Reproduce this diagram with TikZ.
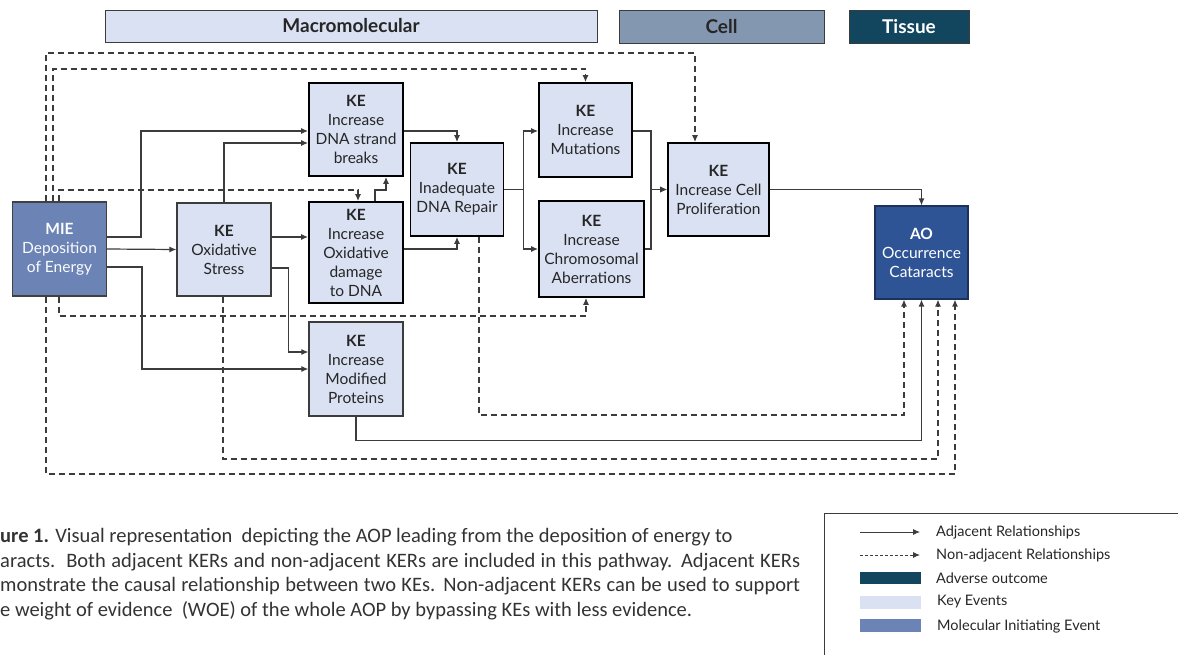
\documentclass[tikz,border=0pt]{standalone}
\usepackage{fontspec}
\setmainfont{Lato}
\newfontfamily\capfont{Carlito}
\usetikzlibrary{arrows.meta}
\definecolor{kefill}{HTML}{D9E1F2}
\definecolor{miefill}{HTML}{6C83B5}
\definecolor{aofill}{HTML}{2F5496}
\definecolor{cellfill}{HTML}{8497B0}
\definecolor{tissuefill}{HTML}{12465E}
\definecolor{linegrey}{HTML}{3C3C3C}
\tikzset{
	ke/.style={draw=black, line width=1.8pt, fill=kefill, align=center, inner sep=1pt, font=\fontsize{15.5}{19}\selectfont, text=black!85},
	kethin/.style={ke, draw=linegrey, line width=1.1pt},
	adj/.style={draw=linegrey, line width=1.2pt, -{Latex[length=7pt,width=6pt]}},
	nadj/.style={adj, dash pattern=on 6pt off 4pt},
	banner/.style={draw=linegrey, line width=1pt, font=\fontsize{19}{21}\selectfont\bfseries, inner sep=0pt, text=black!85},
	legtext/.style={anchor=west, inner sep=0pt, font=\fontsize{14.5}{16}\selectfont, text=black!85},
	capt/.style={anchor=west, inner sep=0pt, font=\capfont\fontsize{20.5}{24}\selectfont, text=black!80},
}
\begin{document}
\begin{tikzpicture}[x=1pt, y=-1pt]
	\useasboundingbox (0,0) rectangle (1178,654);
	\node[banner, fill=kefill, minimum width=492pt, minimum height=32pt] (macro) at (351,26) {Macromolecular};
	\node[banner, fill=cellfill, minimum width=205pt, minimum height=33pt] (cell) at (721.5,26.5) {Cell};
	\node[banner, fill=tissuefill, text=white, minimum width=120pt, minimum height=33pt] (tissue) at (909,26.5) {Tissue};

	\node[kethin, draw=black!75, fill=miefill, text=white!90!kefill, minimum width=94pt, minimum height=94pt] (mie) at (59.5,249) {\textbf{MIE}\\Deposition\\of Energy};
	\node[kethin, minimum width=94pt, minimum height=93pt] (ostress) at (224,249.5) {\textbf{KE}\\Oxidative\\Stress};
	\node[ke, minimum width=94pt, minimum height=93pt] (dsb) at (356,129.5) {\textbf{KE}\\Increase\\DNA strand\\breaks};
	\node[ke, minimum width=94pt, minimum height=101pt] (oxdam) at (356,252.5) {\textbf{KE}\\Increase\\Oxidative\\damage\\to DNA};
	\node[kethin, minimum width=94pt, minimum height=94pt] (modprot) at (356,369) {\textbf{KE}\\Increase\\Modified\\Proteins};
	\node[ke, minimum width=93pt, minimum height=93pt] (repair) at (457,189.5) {\textbf{KE}\\Inadequate\\DNA Repair};
	\node[ke, minimum width=93pt, minimum height=94pt] (mut) at (585.5,130) {\textbf{KE}\\Increase\\Mutations};
	\node[ke, minimum width=105pt, minimum height=96pt] (chrom) at (591.5,249) {\textbf{KE}\\Increase\\Chromosomal\\Aberrations};
	\node[ke, minimum width=101pt, minimum height=93pt] (prolif) at (718.5,189.5) {\textbf{KE}\\Increase Cell\\Proliferation};
	\node[kethin, draw=aofill!60!black, fill=aofill, text=white, minimum width=93pt, minimum height=93pt] (ao) at (921.5,252.5) {\textbf{AO}\\Occurrence\\Cataracts};

	\draw[adj] (mie.east) -- (ostress.west);
	\draw[adj] (mie.east |- 0,237) -- ++(34,0) |- (dsb.west |- 0,131);
	\draw[adj] (mie.east |- 0,267) -- ++(35,0) |- (modprot.west);
	\draw[adj] (ostress.north) |- (dsb.west |- 0,143);
	\draw[adj] (ostress.east |- 0,237) -- (oxdam.west |- 0,237);
	\draw[adj] (ostress.east |- 0,268) -- ++(17,0) |- (modprot.west |- 0,352);
	\draw[adj] (oxdam.north -| 375,0) -- (375,190) -| (dsb.south -| 386,0);
	\draw[adj] (dsb.east |- 0,131) -| (repair.north);
	\draw[adj] (oxdam.east |- 0,249) -| (repair.south);
	\draw[adj] (repair.east) -- ++(19,0) |- (mut.west |- 0,131);
	\draw[adj] (repair.east) -- ++(19,0) |- (chrom.west);
	\draw[adj] (mut.east |- 0,131) -- ++(18,0) |- (prolif.west);
	\draw[adj] (chrom.east) -- ++(6,0) |- (prolif.west);
	\draw[adj] (prolif.east) -| (ao.north);
	\draw[adj] (modprot.south) -- ++(0,24) -| (ao.south);

	\draw[nadj] (mie.north -| 46,0) -- (46,53) -| (prolif.north -| 695,0);
	\draw[nadj] (mie.north -| 53,0) -- (53,69) -| (mut.north);
	\draw[nadj] (mie.north -| 59,0) -- (59,190) -| (oxdam.north -| 358,0);
	\draw[nadj] (mie.south -| 59,0) -- (59,316) -| (chrom.south -| 586,0);
	\draw[nadj] (mie.south -| 46,0) -- (46,474) -| (ao.south -| 955,0);
	\draw[nadj] (ostress.south -| 223,0) -- (223,459) -| (ao.south -| 938,0);
	\draw[nadj] (repair.south -| 479,0) -- (479,415) -| (ao.south -| 904,0);

	\node[capt] (cap1) at (0,537) {\textbf{ure 1.} Visual representation\ \ depicting the AOP leading from the deposition of energy to};
	\node[capt] (cap2) at (0,562) {\makebox[800pt][s]{aracts.\ \ Both adjacent KERs and non-adjacent KERs are included in this pathway. Adjacent KERs}};
	\node[capt] (cap3) at (0,586) {\makebox[800pt][s]{monstrate the causal relationship between two KEs. Non-adjacent KERs can be used to support}};
	\node[capt] (cap4) at (0,611) {e weight of evidence\ \ (WOE) of the whole AOP by bypassing KEs with less evidence.};

	\draw[linegrey, line width=0.8pt] (824,680) |- (1200,513);
	\node[legtext] (legadj) at (936,532) {Adjacent Relationships};
	\node[legtext] (legnadj) at (936,555) {Non-adjacent Relationships};
	\node[legtext] (legao) at (936,578) {Adverse outcome};
	\node[legtext] (legke) at (937,602) {Key Events};
	\node[legtext] (legmie) at (937,626) {Molecular Initiating Event};
	\draw[adj, line width=0.9pt] ([xshift=-76pt]legadj.west) -- ([xshift=-16pt]legadj.west);
	\draw[nadj, line width=0.9pt, dash pattern=on 3pt off 2pt] ([xshift=-76pt]legnadj.west) -- ([xshift=-16pt]legnadj.west);
	\fill[tissuefill] ([xshift=-76pt,yshift=6pt]legao.west) rectangle ++(61,12);
	\fill[kefill] ([xshift=-77pt,yshift=6pt]legke.west) rectangle ++(61,13);
	\fill[miefill] ([xshift=-77pt,yshift=7pt]legmie.west) rectangle ++(61,13);
\end{tikzpicture}
\end{document}
